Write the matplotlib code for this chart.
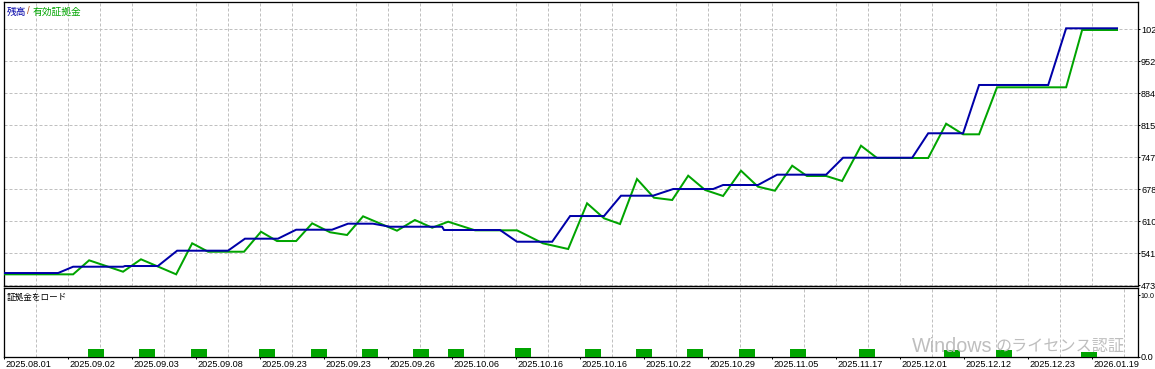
import matplotlib
matplotlib.use("Agg")
import matplotlib.pyplot as plt
from matplotlib.transforms import ScaledTranslation

plt.rcParams['font.family'] = ['Liberation Sans', 'Noto Sans CJK JP', 'DejaVu Sans']
plt.rcParams['lines.scale_dashes'] = False

# ---------------- data ----------------
# x positions are in chart "slot" units (one grid column per unit)
balance_x = [0.0, 1.69, 2.16, 3.72, 3.78, 4.81, 5.41, 7.0, 7.53, 8.56, 9.13, 10.25,
             10.75, 11.53, 12.06, 13.69, 13.75, 15.5, 16.03, 17.13, 17.69, 18.75,
             19.28, 20.28, 20.91, 22.16, 22.47, 23.56, 24.16, 25.69, 26.22, 28.38,
             28.88, 29.97, 30.47, 32.63, 33.19, 34.78]
balance_y = [499.3, 499.3, 512.8, 512.8, 514.3, 514.3, 547.1, 547.1, 572.8, 572.8,
             592.0, 592.0, 604.9, 604.9, 598.4, 598.4, 591.4, 591.4, 566.3, 566.3,
             621.3, 621.3, 664.8, 664.8, 679.1, 679.1, 687.7, 687.7, 709.8, 709.8,
             746.1, 746.1, 798.4, 798.4, 901.8, 901.8, 1023.1, 1023.1]

equity_x = [0.0, 2.16, 2.66, 3.72, 4.28, 5.38, 5.88, 6.38, 7.5, 8.03, 8.53, 9.13,
            9.63, 10.19, 10.72, 11.22, 12.28, 12.84, 13.38, 13.88, 14.72, 16.03,
            16.84, 17.63, 18.22, 18.75, 19.25, 19.78, 20.31, 20.88, 21.38, 21.91,
            22.47, 23.03, 23.56, 24.09, 24.63, 25.09, 25.69, 26.19, 26.78, 27.28,
            28.88, 29.44, 29.97, 30.47, 31.03, 33.19, 33.69, 34.78]
equity_y = [496.5, 496.5, 526.5, 502.1, 528.7, 496.5, 562.9, 544.9, 544.9, 587.7,
            567.8, 567.8, 605.7, 586.5, 580.7, 620.7, 589.9, 612.8, 596.3, 609.1,
            590.7, 590.7, 562.9, 550.7, 648.5, 616.4, 604.2, 700.5, 660.5, 655.6,
            707.6, 677.0, 664.2, 718.3, 684.1, 675.5, 729.0, 707.0, 707.0, 696.3,
            771.8, 745.5, 745.5, 818.9, 796.2, 796.2, 896.8, 896.8, 1019.5, 1019.5]

load_x = [2.875, 4.47, 6.09, 8.22, 9.84, 11.44, 13.03, 14.13, 16.23, 18.41, 20.0,
          21.59, 23.22, 24.81, 26.97, 29.63, 31.25, 33.91]
load_y = [1.3, 1.3, 1.3, 1.3, 1.3, 1.3, 1.3, 1.3, 1.46, 1.3, 1.14, 1.14, 1.14,
          1.14, 1.14, 0.98, 0.98, 0.81]

y_ticks = [473, 541.5, 610, 678.5, 747, 815.5, 884, 952.5, 1021]
y_labels = ['473', '541', '610', '678', '747', '815', '884', '952', '102']
load_ticks = [0, 10]
load_labels = ['0.0', '10.0']

date_pos = list(range(0, 35, 2))
date_labels = ['2025.08.01', '2025.09.02', '2025.09.03', '2025.09.08', '2025.09.23',
               '2025.09.23', '2025.09.26', '2025.10.06', '2025.10.16', '2025.10.16',
               '2025.10.22', '2025.10.29', '2025.11.05', '2025.11.17', '2025.12.01',
               '2025.12.12', '2025.12.23', '2026.01.19']

# ---------------- layout ----------------
W, H = 1155, 369
DPI = 100
fig = plt.figure(figsize=(W / DPI, H / DPI), dpi=DPI, facecolor='white')

def px_axes(left, top, right, bottom):
    return fig.add_axes([left / W, 1 - bottom / H, (right - left) / W, (bottom - top) / H])

BLUE = '#0000A8'
GREEN = '#00A400'
GRID = '#C0C0C0'
PX = 72.0 / DPI  # points per pixel

ax = px_axes(3.5, 2, 1137.5, 285.5)
ax2 = px_axes(3.5, 288, 1137.5, 356.5)

xmin, xmax = -0.0156, 35.42
for a in (ax, ax2):
    a.set_xlim(xmin, xmax)
    for s in a.spines.values():
        s.set_linewidth(1.3 * PX)
        s.set_color('black')
    a.set_xticks(range(1, 36), minor=True)
    a.grid(True, which='minor', axis='x', color=GRID, lw=1 * PX,
           linestyle=(0, (3 * PX, 2 * PX)))
    a.set_axisbelow(True)

# main panel
ax.set_ylim(472.6, 1079.4)
ax.set_yticks(y_ticks)
ax.set_yticklabels(y_labels)
ax.yaxis.tick_right()
ax.tick_params(axis='y', length=2 * PX, width=1 * PX, pad=1.5 * PX, labelsize=6.6)
ax.tick_params(axis='x', which='both', bottom=False, labelbottom=False, length=0)
ax.grid(True, which='major', axis='y', color=GRID, lw=1 * PX,
        linestyle=(0, (3 * PX, 2 * PX)))

ax.plot(equity_x, equity_y, color=GREEN, lw=2 * PX, solid_joinstyle='miter', zorder=3)
ax.plot(balance_x, balance_y, color=BLUE, lw=2 * PX, solid_joinstyle='miter', zorder=4)

# lower panel
ax2.set_ylim(0, 11.14)
ax2.set_yticks(load_ticks)
ax2.set_yticklabels(load_labels)
ax2.yaxis.tick_right()
ax2.tick_params(axis='y', length=2 * PX, width=1 * PX, pad=1.0 * PX, labelsize=6.6)
for lbl in ax2.get_yticklabels():
    if lbl.get_text() == '10.0':
        lbl.set_fontsize(5.1)
ax2.bar(load_x, load_y, width=0.5, color=GREEN, edgecolor='none', zorder=3)

ax2.set_xticks(date_pos)
ax2.set_xticklabels(date_labels, ha='left')
ax2.tick_params(axis='x', which='major', length=2 * PX, width=1 * PX, pad=1.2 * PX,
                labelsize=6.6)
ax2.tick_params(axis='x', which='minor', length=0)
off = ScaledTranslation(1.2 / DPI, 0, fig.dpi_scale_trans)
for lbl in ax2.get_xticklabels():
    lbl.set_transform(lbl.get_transform() + off)

# titles
def ftext(xp, yp, s, **kw):
    fig.text(xp / W, 1 - yp / H, s, va='center', ha='left', **kw)

ftext(7, 11.5, '残高', color=BLUE, fontsize=7)
ftext(27, 11.5, '/', color='#B05020', fontsize=7)
ftext(33, 11.5, '有効証拠金', color=GREEN, fontsize=7)
ftext(7, 297, '証拠金をロード', color='black', fontsize=6.2)

# watermark overlay
ov = fig.add_axes([0, 0, 1, 1], zorder=10)
ov.set_xlim(0, W)
ov.set_ylim(H, 0)
ov.axis('off')
ov.patch.set_alpha(0)
ov.text(912, 346, 'Windows', color='#BEBEBE', fontsize=14.2, va='center', ha='left')
ov.text(996, 346.5, 'のライセンス認証', color='#BEBEBE', fontsize=11.6,
        va='center', ha='left')

fig.savefig('out.png', dpi=DPI, facecolor='white')
